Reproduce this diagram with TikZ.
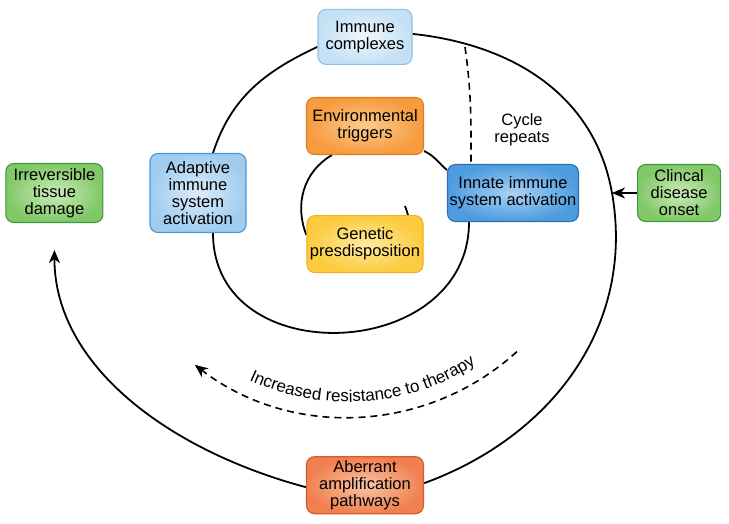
\documentclass[tikz,border=0pt]{standalone}
\usepackage{fontspec}
\setmainfont{Liberation Sans}
\usepackage{tikz}
\usetikzlibrary{positioning, arrows.meta, backgrounds, decorations.text}
\usepackage{xcolor}
\definecolor{paleline}{RGB}{143,193,232}
\definecolor{palein}{RGB}{238,246,253}
\definecolor{paleout}{RGB}{196,224,245}
\definecolor{skyline}{RGB}{79,151,208}
\definecolor{skyin}{RGB}{220,236,250}
\definecolor{skyout}{RGB}{160,204,239}
\definecolor{deepline}{RGB}{44,111,179}
\definecolor{deepin}{RGB}{170,210,243}
\definecolor{deepout}{RGB}{78,156,224}
\definecolor{amberline}{RGB}{227,122,30}
\definecolor{amberin}{RGB}{252,204,142}
\definecolor{amberout}{RGB}{246,155,62}
\definecolor{goldline}{RGB}{242,176,28}
\definecolor{goldin}{RGB}{254,234,160}
\definecolor{goldout}{RGB}{252,203,62}
\definecolor{leafline}{RGB}{62,154,58}
\definecolor{leafin}{RGB}{204,235,184}
\definecolor{leafout}{RGB}{128,200,104}
\definecolor{coralline}{RGB}{216,90,42}
\definecolor{coralin}{RGB}{250,196,166}
\definecolor{coralout}{RGB}{240,128,80}

\begin{document}
\begin{tikzpicture}[
        x = 1pt, y = 1pt,
        Box/.style = {rectangle, rounded corners = 8, inner sep = 2, line width = 1.1, align = center, minimum height = 57, font = \fontsize{16.5}{17}\selectfont},
        % 
        PaleBlue/.style = {Box, draw = paleline, inner color = palein, outer color = paleout},
        SkyBlue/.style = {Box, draw = skyline, inner color = skyin, outer color = skyout},
        DeepBlue/.style = {Box, draw = deepline, inner color = deepin, outer color = deepout},
        Amber/.style = {Box, draw = amberline, inner color = amberin, outer color = amberout},
        Gold/.style = {Box, draw = goldline, inner color = goldin, outer color = goldout},
        Leaf/.style = {Box, draw = leafline, inner color = leafin, outer color = leafout},
        Coral/.style = {Box, draw = coralline, inner color = coralin, outer color = coralout},
        % 
        Spiral/.style = {line width = 1.8},
        Cycle/.style = {line width = 1.6, dash pattern = on 7pt off 5pt},
        Tip/.style = {-{Stealth[length = 13pt, width = 11pt, inset = 4pt]}},
    ]
        \useasboundingbox (0,0) rectangle (729,523);

        % Inner boxes
        \node[Amber, minimum width = 117] (Env) at (365,397) {Environmental\\triggers};
        \node[Gold, minimum width = 116] (Genetic) [below = 60pt of Env] {Genetic\\presdisposition};
        \node[PaleBlue, minimum width = 94, minimum height = 55] (Immune) [above = 32pt of Env] {Immune\\complexes};
        \node[Coral, minimum width = 117] (Aberrant) [below = 183pt of Genetic] {Aberrant\\amplification\\pathways};

        % Immune activation
        \node[DeepBlue, minimum width = 131] (Innate) at (513,330) {Innate immune\\system activation};
        \node[SkyBlue, minimum width = 96, minimum height = 79] (Adaptive) at (198,330) {Adaptive\\immune\\system\\activation};

        % Outcomes
        \node[Leaf, minimum width = 83] (Clinical) [right = 58pt of Innate] {Clincal\\disease\\onset};
        \node[Leaf, minimum width = 97, minimum height = 59] (Irreversible) [left = 46pt of Adaptive] {Irreversible\\tissue\\damage};

        \node[align = center, font = \fontsize{16.5}{17}\selectfont] (Repeats) at (522,393) {Cycle\\repeats};

        \coordinate (Seed) at (405,317);
        \coordinate (Rim) at (612,330);
        \coordinate (CycleTop) at (465,476);
        \coordinate (Hub) at (348,357);

        \begin{scope}[on background layer]
            % Spiral
            \draw[Spiral] (Seed) to[out=-75, in=100] ([xshift=43]Genetic.north);
            \draw[Spiral] ([yshift=9]Genetic.west) to[out=112, in=-150] ([xshift=-33]Env.south);
            \draw[Spiral] ([yshift=-25]Env.east) to[out=-25, in=140] ([yshift=23]Innate.west);
            \draw[Spiral] ([xshift=-44]Innate.south) to[out=-90, in=-90, looseness=1.4] ([xshift=15]Adaptive.south);
            \draw[Spiral] ([xshift=15]Adaptive.north) to[out=72, in=-155] ([yshift=-10]Immune.west);
            \draw[Spiral] ([yshift=3]Immune.east) to[out=-6, in=100] (Rim);
            \draw[Spiral] (Rim) to[out=-80, in=20] ([yshift=2]Aberrant.east);
            \draw[Spiral, Tip, shorten >= 27] ([yshift=-2]Aberrant.west) to[out=165, in=-90] (Irreversible.south);

            % Cycle repeats
            \draw[Cycle] (CycleTop) to[out=-82, in=90] ([xshift=-42]Innate.north);
        \end{scope}

        % Clinical onset
        \draw[Spiral, Tip] (Clinical.west) -- (Rim);

        % Resistance
        \draw[Cycle, Tip] ([shift={(-47.7:251)}]Hub) arc[start angle=-47.7, end angle=-127.6, radius=251];
        \path[shift={(Hub)}, decorate, decoration={text along path, text align=center, text={|\fontsize{17}{17}\selectfont|Increased resistance to therapy}}] (-127:236) arc[start angle=-127, end angle=-45, radius=236];

    \end{tikzpicture}
\end{document}
